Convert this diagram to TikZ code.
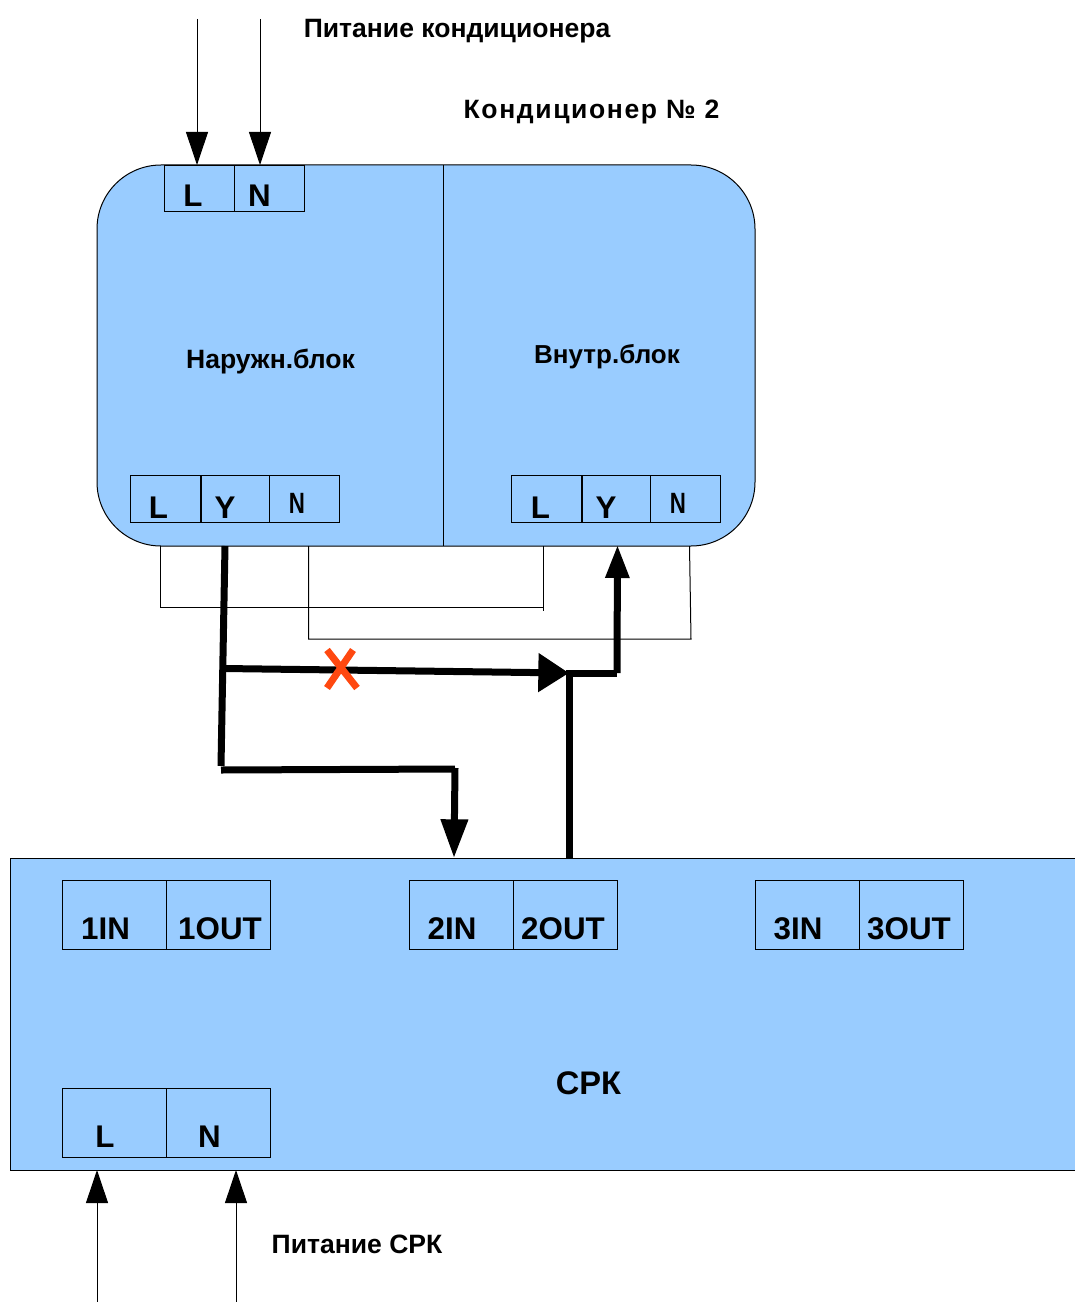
\documentclass[tikz,border=0pt]{standalone}
\usepackage{fontspec}
\setmainfont{Liberation Sans}
\usetikzlibrary{arrows.meta}

\tikzset{every picture/.style={line width=0.75pt}}
\tikzset{
  block/.style={draw,fill=blockblue,inner sep=0pt,outer sep=0pt},
  cellsm/.style={draw,inner sep=0pt,outer sep=0pt,minimum width=52.5pt,minimum height=35pt},
  cellbg/.style={draw,inner sep=0pt,outer sep=0pt,minimum width=78pt,minimum height=51.75pt},
  txt/.style={anchor=base,inner sep=0pt,font=\bfseries\fontsize{19.9pt}{20pt}\selectfont},
  txtbig/.style={anchor=base,inner sep=0pt,font=\bfseries\fontsize{23.5pt}{24pt}\selectfont},
  txtnarrow/.style={anchor=base,inner sep=0pt,font=\bfseries\fontsize{22pt}{23pt}\selectfont},
  thickwire/.style={line width=5.25pt},
  feed/.style={-{Triangle[length=24.75pt,width=16.5pt]}},
}
\definecolor{blockblue}{RGB}{153,204,255}
\definecolor{crossred}{RGB}{255,72,16}

\begin{document}
\begin{tikzpicture}[x=0.75pt,y=0.75pt,yscale=-1,xscale=1]
    \useasboundingbox (0,0) rectangle (1074,1302);

    %Blocks
    \node [block,rounded corners=48pt,minimum width=493.5pt,minimum height=285.75pt] (conditioner) at (426,355.5) {};
    \node [block,minimum width=802.5pt,minimum height=234pt] (srk) at (545,1014) {};
    \coordinate (divtop) at (443.5,165);
    \coordinate (divbot) at (443.5,546);
    \draw (divtop) -- (divbot);

    %Terminals
    \node [cellsm] (powerL) at (199.5,188.5) {};
    \node [cellsm] (powerN) at (269.5,188.5) {};
    \node [cellsm,minimum width=52.5pt] (outL) at (165.5,499) {};
    \node [cellsm,minimum width=51pt] (outY) at (235,499) {};
    \node [cellsm,minimum width=52.5pt] (outN) at (304,499) {};
    \node [cellsm,minimum width=52.5pt] (inL) at (546.5,499) {};
    \node [cellsm,minimum width=51pt] (inY) at (616,499) {};
    \node [cellsm,minimum width=52.5pt] (inN) at (685.5,499) {};
    \node [cellbg] (in1) at (114,914.5) {};
    \node [cellbg] (out1) at (218,914.5) {};
    \node [cellbg] (in2) at (461,914.5) {};
    \node [cellbg] (out2) at (565,914.5) {};
    \node [cellbg] (in3) at (807,914.5) {};
    \node [cellbg] (out3) at (911,914.5) {};
    \node [cellbg] (srkL) at (114,1122.5) {};
    \node [cellbg] (srkN) at (218,1122.5) {};

    %Wire ends
    \coordinate (feedLa) at (197,19);
    \coordinate (feedLb) at (197,165);
    \coordinate (feedNa) at (260,19);
    \coordinate (feedNb) at (260,165);
    \coordinate (feedSa) at (97,1302);
    \coordinate (feedSb) at (97,1170);
    \coordinate (feedTa) at (236,1302);
    \coordinate (feedTb) at (236,1170);
    \coordinate (wireLa) at (160.5,546);
    \coordinate (wireLb) at (160.5,607);
    \coordinate (wireLc) at (543.5,607);
    \coordinate (wireLd) at (543.5,546);
    \coordinate (wireLe) at (543.5,611);
    \coordinate (wireNa) at (308.5,546);
    \coordinate (wireNb) at (308.5,639);
    \coordinate (wireNc) at (691,639);
    \coordinate (wireNd) at (689.5,546);
    \coordinate (sigA) at (225,546);
    \coordinate (sigB) at (221,766);
    \coordinate (sigC) at (221,770);
    \coordinate (sigD) at (455,769);
    \coordinate (sigE) at (455,768);
    \coordinate (sigF) at (454,858);
    \coordinate (sigG) at (224,668.5);
    \coordinate (sigH) at (569,673);
    \coordinate (sigI) at (569,858);
    \coordinate (sigJ) at (617,673);
    \coordinate (sigK) at (617.5,545);
    \coordinate (crossA) at (327,650);
    \coordinate (crossB) at (357,688);
    \coordinate (crossC) at (353,650);
    \coordinate (crossD) at (327,688);

    %Thin wires
    \draw (wireLa) -- (wireLb) -- (wireLc) -- (wireLe) (wireLc) -- (wireLd);
    \draw (wireNa) -- (wireNb) -- (wireNc) -- (wireNd);

    %Feeds
    \draw [feed] (feedLa) -- (feedLb);
    \draw [feed] (feedNa) -- (feedNb);
    \draw [feed] (feedSa) -- (feedSb);
    \draw [feed] (feedTa) -- (feedTb);

    %Signal wires
    \draw [thickwire] (sigA) -- (sigB);
    \draw [thickwire] (sigC) -- (sigD);
    \draw [thickwire,-{Triangle[length=29pt,width=19.5pt]}] (sigE) -- (sigF);
    \draw [thickwire,-{Triangle[length=23pt,width=28pt]}] (sigG) -- (sigH);
    \draw [thickwire] (sigI) -- (sigH) -- (sigJ);
    \draw [thickwire,-{Triangle[length=24.75pt,width=17pt]}] (sigJ) -- (sigK);

    %Cross
    \draw [crossred,line width=5.25pt] (crossA) -- (crossB);
    \draw [crossred,line width=5.25pt] (crossC) -- (crossD);

    % Text Node
    \node [txt] (tpower) at (457,38) {Питание кондиционера};
    \node [txt] (ttitle) at (591.5,119) {\addfontfeatures{LetterSpace=6}Кондиционер № 2};
    \node [txt] (toutdoor) at (270.5,368) {Наружн.блок};
    \node [txt,font=\bfseries\fontsize{19.5pt}{20pt}\selectfont] (tindoor) at (607,363) {Внутр.блок};
    \node [txt] (tfeed) at (357,1253) {Питание СРК};
    \node [txtbig,font=\bfseries\fontsize{24.5pt}{25pt}\selectfont] (tsrk) at (588.5,1094) {СРК};
    % Text Node
    \node [txtbig] (lpowerL) at (193,206) {L};
    \node [txtbig] (lpowerN) at (259.5,206) {N};
    \node [txtbig] (loutL) at (158.5,518) {L};
    \node [txtbig] (loutY) at (225,518) {Y};
    \node [txtnarrow] (loutN) at (297,513.5) {\scalebox{0.76}[1]{N}};
    \node [txtbig] (linL) at (540.5,518) {L};
    \node [txtbig] (linY) at (606,518) {Y};
    \node [txtnarrow] (linN) at (678,513.5) {\scalebox{0.76}[1]{N}};
    % Text Node
    \node [txtbig] (lin1) at (105.5,939) {1IN};
    \node [txtbig] (lout1) at (220,939) {1OUT};
    \node [txtbig] (lin2) at (452,939) {2IN};
    \node [txtbig] (lout2) at (563,939) {2OUT};
    \node [txtbig] (lin3) at (798,939) {3IN};
    \node [txtbig] (lout3) at (909,939) {3OUT};
    \node [txtbig] (lsrkL) at (105,1147) {L};
    \node [txtbig] (lsrkN) at (209.5,1147) {N};
\end{tikzpicture}
\end{document}
